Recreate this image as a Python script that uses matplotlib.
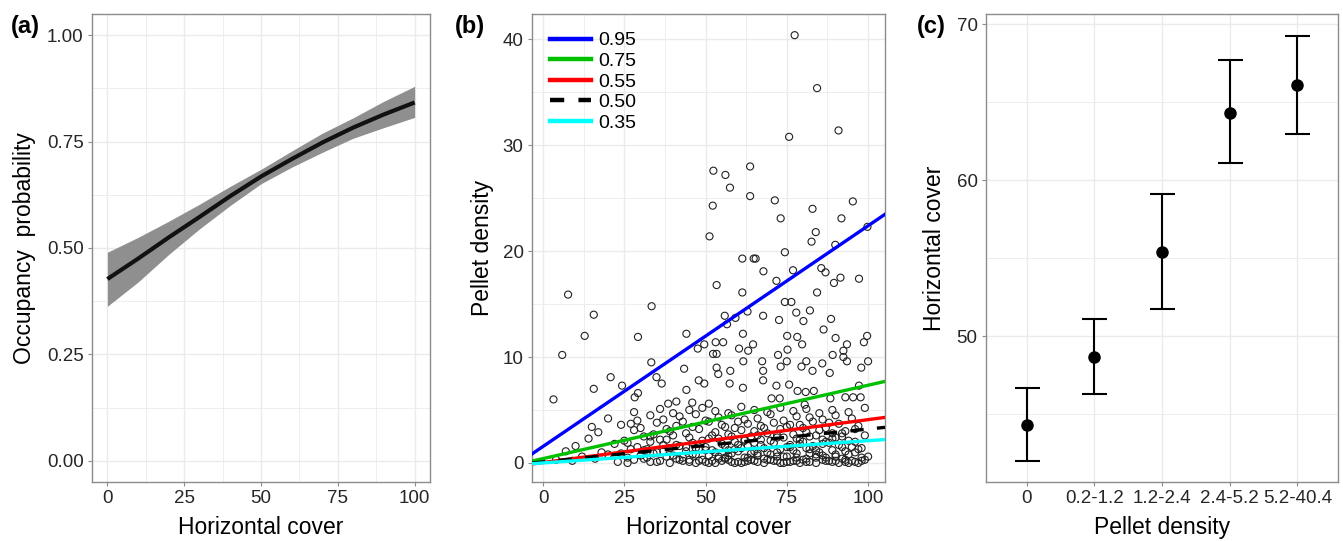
import matplotlib
matplotlib.use("Agg")
import matplotlib.pyplot as plt
from matplotlib.lines import Line2D
import numpy as np

plt.rcParams['font.family'] = ['Liberation Sans', 'DejaVu Sans']

# ---------------- Panel (a) data ----------------
occ_x = [0, 10, 20, 30, 40, 50, 60, 70, 80, 90, 100]
occ_mid = [0.427, 0.475, 0.525, 0.573, 0.622, 0.668, 0.709, 0.748, 0.783, 0.814, 0.842]
occ_hi = [0.490, 0.525, 0.563, 0.603, 0.645, 0.685, 0.728, 0.770, 0.806, 0.845, 0.880]
occ_lo = [0.363, 0.420, 0.485, 0.545, 0.600, 0.651, 0.690, 0.725, 0.758, 0.783, 0.807]

# ---------------- Panel (b) data ----------------
quant_labels = ['0.95', '0.75', '0.55', '0.50', '0.35']
quant_at0 = [1.56, 0.41, 0.04, 0.10, 0.00]
quant_at100 = [22.4, 7.34, 4.09, 3.20, 2.10]

sparse_x = [77.4, 84.3, 75.7, 90.9, 52.4, 56.1, 63.7, 57.5, 63.7, 52.2, 71.3, 95.3, 82.9, 73.1,
            91.8, 83.9, 51.2, 99.8, 82.6, 89.9, 61.3, 64.8, 65.4, 74.4, 85.6, 86.9, 67.8, 76.9,
            71.8, 91.5, 97.2, 89.5, 53.4, 61.3, 84.3, 7.7, 74.4, 76.4, 33.4, 62.9, 77.9, 82.1,
            80.1, 67.7, 55.9, 56.6, 59.2, 15.6, 72.6, 88.6, 86.3, 12.8, 29.2, 44.1, 61.5, 75.1,
            78.2, 90.0, 99.7, 98.7, 53.1, 55.4, 49.6, 64.6, 93.5, 79.7, 47.6, 60.3, 63.1, 75.2,
            92.4, 5.9, 72.3, 89.1, 52.3, 53.4, 92.4, 61.6, 81.0, 93.5, 100.0, 67.4, 33.3, 73.1,
            79.5, 85.9, 75.0, 53.4, 97.9, 43.4, 57.6, 67.7, 53.9, 82.9, 88.2, 20.8, 34.9, 47.9,
            67.7, 24.3, 36.5, 49.6, 57.4, 61.5, 71.8, 97.2, 75.7, 15.6, 44.1, 78.3, 80.8, 83.3,
            29.2, 3.2, 28.2, 38.5, 41.0, 45.9, 51.0, 70.3, 72.8, 93.0, 95.4, 97.7, 88.4, 80.5]
sparse_y = [40.4, 35.4, 30.8, 31.4, 27.6, 27.2, 28.0, 26.0, 25.2, 24.3, 24.8, 24.7, 24.0, 23.1,
            23.1, 21.8, 21.4, 22.3, 20.9, 20.6, 19.3, 19.3, 19.3, 19.9, 18.4, 18.0, 18.1, 18.2,
            17.2, 17.5, 17.4, 17.0, 16.8, 16.1, 16.1, 15.9, 15.2, 15.2, 14.8, 14.3, 14.2, 14.4,
            13.4, 13.9, 13.9, 13.1, 13.7, 14.0, 13.5, 13.6, 12.6, 12.0, 11.9, 12.2, 12.2, 12.0,
            11.9, 11.8, 12.0, 11.4, 11.4, 11.4, 11.2, 11.2, 11.2, 11.2, 10.8, 10.8, 10.6, 10.7,
            10.6, 10.2, 10.2, 10.2, 10.3, 10.3, 10.0, 9.6, 9.6, 9.6, 9.6, 9.6, 9.5, 9.1,
            9.1, 9.4, 9.6, 9.0, 9.0, 8.9, 8.7, 8.7, 8.4, 8.7, 8.5, 8.1, 8.1, 7.8,
            7.8, 7.3, 7.5, 7.5, 7.5, 7.1, 7.3, 7.3, 7.4, 7.0, 6.9, 6.8, 6.7, 6.8,
            6.6, 6.0, 6.2, 5.6, 5.8, 5.7, 5.6, 6.1, 6.1, 6.2, 6.2, 6.2, 6.1, 5.5]

dense_x = [4, 9, 16, 23, 28, 32, 36, 41, 45, 49, 52, 56, 60, 64, 68, 72, 76, 80, 84, 88, 92, 96, 99,
           12, 20, 26, 30, 34, 38, 43, 47, 51, 54, 58, 62, 66, 70, 74, 78, 82, 86, 90, 94, 98,
           7, 18, 27, 31, 35, 39, 44, 48, 53, 57, 61, 65, 69, 73, 77, 81, 85, 89, 93, 97,
           10, 22, 29, 33, 37, 42, 46, 50, 55, 59, 63, 67, 71, 75, 79, 83, 87, 91, 95,
           14, 25, 31, 36, 40, 45, 49, 54, 58, 62, 66, 70, 74, 78, 82, 86, 90, 94, 99,
           17, 28, 34, 39, 44, 48, 53, 57, 61, 65, 69, 73, 77, 81, 85, 89, 93, 96,
           15, 24, 30, 35, 41, 46, 51, 55, 59, 63, 67, 71, 75, 79, 83, 87, 91,
           20, 29, 33, 37, 42, 47, 50, 54, 58, 62, 66, 70, 74, 78, 82, 86, 90, 95,
           28, 36, 40, 45, 49, 53, 57, 61, 65, 69, 73, 77, 81, 85, 89, 94, 99,
           26, 33, 39, 43, 47, 50, 53, 55, 58, 61, 63, 66, 68, 71, 73, 75, 77, 79, 82, 84, 87, 89, 91, 93, 95, 97,
           40, 44, 52, 56, 60, 64, 67, 72, 76, 80, 84, 88, 92,
           24, 31, 37, 42, 46, 50, 54, 57, 60, 63, 66, 69, 72, 75, 78, 81, 84, 87, 90, 93, 96, 100,
           26, 32, 38, 41, 47, 51, 56, 59, 62, 65, 68, 72, 76, 79, 82, 86, 89, 92, 96, 98,
           27, 33, 38, 43, 52, 56, 60, 64, 68, 72, 76, 80, 84, 88, 92, 97,
           35, 45, 48, 51, 57, 59, 62, 65, 70, 74, 78, 81, 86, 90, 94, 98]
dense_y = [0.3, 0.2, 0.4, 0.1, 0.3, 0.5, 0.2, 0.4, 0.1, 0.3, 0.2, 0.5, 0.1, 0.3, 0.4, 0.2, 0.1, 0.3, 0.5, 0.2, 0.4, 0.1, 0.3,
           0.6, 0.8, 0.5, 0.7, 0.9, 0.6, 0.5, 0.8, 0.7, 0.6, 0.9, 0.5, 0.7, 0.8, 0.6, 0.5, 0.9, 0.7, 0.6, 0.8, 0.5,
           1.1, 1.0, 1.3, 1.2, 1.0, 1.4, 1.1, 1.3, 1.0, 1.2, 1.4, 1.1, 1.0, 1.3, 1.2, 1.4, 1.0, 1.2, 1.1, 1.3,
           1.6, 1.8, 1.5, 2.0, 1.7, 1.6, 1.9, 1.5, 1.8, 2.0, 1.6, 1.7, 1.9, 1.5, 1.8, 1.6, 2.0, 1.7, 1.5,
           2.3, 2.1, 2.5, 2.2, 2.6, 2.4, 2.1, 2.3, 2.5, 2.2, 2.6, 2.1, 2.4, 2.3, 2.5, 2.2, 2.4, 2.1, 2.6,
           2.9, 3.1, 2.7, 3.0, 2.8, 3.2, 2.9, 2.7, 3.1, 3.0, 2.8, 3.2, 2.7, 2.9, 3.1, 2.8, 3.0, 3.2,
           3.4, 3.6, 3.3, 3.8, 3.5, 3.4, 3.9, 3.6, 3.3, 3.7, 3.5, 3.8, 3.4, 3.6, 3.9, 3.3, 3.7,
           4.2, 4.0, 4.5, 4.1, 4.4, 4.6, 4.0, 4.3, 4.5, 4.1, 4.2, 4.6, 4.0, 4.4, 4.3, 4.1, 4.5, 4.2,
           4.8, 5.1, 4.7, 5.0, 5.2, 4.9, 4.7, 5.3, 5.0, 4.8, 5.2, 4.9, 5.1, 4.7, 5.0, 4.8, 5.2,
           0.0, 0.1, 0.0, 0.2, 0.0, 0.1, 0.0, 0.2, 0.1, 0.0, 0.2, 0.1, 0.0, 0.2, 0.0, 0.1, 0.2, 0.0, 0.1, 0.0, 0.2, 0.1, 0.0, 0.1, 0.2, 0.0,
           0.7, 1.5, 1.2, 0.4, 1.7, 0.9, 2.2, 0.6, 1.5, 2.0, 0.8, 1.9, 2.8,
           0.9, 0.4, 1.1, 0.3, 0.8, 1.2, 0.4, 0.7, 1.1, 0.5, 0.9, 0.3, 1.0, 0.6, 0.9, 0.4, 1.2, 0.5, 0.8, 0.3, 1.0, 0.6,
           1.9, 1.3, 2.2, 1.7, 1.4, 2.3, 1.6, 1.3, 2.1, 1.9, 1.4, 2.4, 1.7, 2.2, 1.3, 1.8, 2.3, 1.5, 2.0, 1.4,
           3.7, 2.5, 3.2, 3.9, 2.6, 3.4, 3.9, 2.5, 3.3, 2.6, 3.6, 3.3, 2.6, 3.8, 2.5, 3.5,
           0.1, 0.3, 0.2, 0.0, 0.3, 0.0, 0.1, 0.2, 0.3, 0.0, 0.2, 0.1, 0.3, 0.2, 0.0, 0.2]

# ---------------- Panel (c) data ----------------
dens_cats = ['0', '0.2-1.2', '1.2-2.4', '2.4-5.2', '5.2-40.4']
cover_mean = [44.33, 48.67, 55.44, 64.33, 66.13]
cover_hi = [46.71, 51.11, 59.16, 67.71, 69.29]
cover_lo = [42.04, 46.31, 51.78, 61.09, 62.98]

# ---------------- styling ----------------
DPI = 100
W, H = 1343, 541
fig = plt.figure(figsize=(W / DPI, H / DPI), dpi=DPI)
GRID = '#EBEBEB'
FRAME = '#8C8C8C'
TICKC = '#262626'
TICKFS = 13.5
LABFS = 16.5
PANFS = 17


def style(ax):
    for s in ax.spines.values():
        s.set_color(FRAME)
        s.set_linewidth(1.0)
    ax.set_facecolor('white')
    ax.tick_params(axis='both', which='major', length=3, width=0.8, color=FRAME,
                   labelsize=TICKFS, labelcolor=TICKC, pad=3)
    ax.tick_params(axis='both', which='minor', length=0)
    ax.grid(True, which='major', color=GRID, linewidth=1.0)
    ax.grid(True, which='minor', color=GRID, linewidth=0.6)
    ax.set_axisbelow(True)


TOP, BOT = 14, 482
bottom, height = 1 - BOT / H, (BOT - TOP) / H

# (a)
axa = fig.add_axes([92 / W, bottom, (430 - 92) / W, height])
style(axa)
axa.fill_between(occ_x, occ_lo, occ_hi, color='#8F8F8F', linewidth=0)
axa.plot(occ_x, occ_mid, color='#111111', linewidth=3.0, solid_capstyle='butt')
axa.set_xlim(-5, 105)
axa.set_ylim(-0.05, 1.05)
axa.set_xticks([0, 25, 50, 75, 100])
axa.set_xticks([12.5, 37.5, 62.5, 87.5], minor=True)
axa.set_yticks([0, 0.25, 0.5, 0.75, 1.0])
axa.set_yticklabels(['0.00', '0.25', '0.50', '0.75', '1.00'])
axa.set_yticks([0.125, 0.375, 0.625, 0.875], minor=True)
axa.set_xlabel('Horizontal cover', fontsize=LABFS, labelpad=6)
axa.set_ylabel('Occupancy  probability', fontsize=LABFS, labelpad=8)
fig.text(11 / W, 1 - 26 / H, '(a)', fontsize=PANFS, fontweight='bold', va='center', ha='left')

# (b)
axb = fig.add_axes([532 / W, bottom, (885 - 532) / W, height])
style(axb)
axb.scatter(sparse_x + dense_x, sparse_y + dense_y, s=26, facecolors='none',
            edgecolors='#222222', linewidths=0.8, zorder=2)
xl = (-3.4, 105.2)
colors = ['#0000FF', '#00C000', '#FF0000', '#000000', '#00FFFF']
for lab, a0, a100, c in zip(quant_labels, quant_at0, quant_at100, colors):
    slope = (a100 - a0) / 100.0
    xs = np.array(xl)
    ys = a0 + slope * xs
    if lab == '0.50':
        axb.plot(xs, ys, color=c, linewidth=2.4, dashes=(4, 4), zorder=3)
    else:
        axb.plot(xs, ys, color=c, linewidth=2.4, zorder=3)
axb.set_xlim(*xl)
axb.set_ylim(-1.8, 42.4)
axb.set_xticks([0, 25, 50, 75, 100])
axb.set_xticks([12.5, 37.5, 62.5, 87.5], minor=True)
axb.set_yticks([0, 10, 20, 30, 40])
axb.set_yticks([5, 15, 25, 35], minor=True)
axb.set_xlabel('Horizontal cover', fontsize=LABFS, labelpad=6)
axb.set_ylabel('Pellet density', fontsize=LABFS, labelpad=6)
leg_handles = []
for lab, c in zip(quant_labels, colors):
    if lab == '0.50':
        leg_handles.append(Line2D([], [], color=c, linewidth=3.2, dashes=(3.2, 3.2)))
    else:
        leg_handles.append(Line2D([], [], color=c, linewidth=3.2))
axb.legend(leg_handles, quant_labels, loc='upper left', bbox_to_anchor=(0.051, 0.962),
           frameon=False, fontsize=14, handlelength=2.1, handletextpad=0.4,
           labelspacing=0.155, borderaxespad=0, borderpad=0)
fig.text(455 / W, 1 - 26 / H, '(b)', fontsize=PANFS, fontweight='bold', va='center', ha='left')

# (c)
axc = fig.add_axes([986 / W, bottom, (1338 - 986) / W, height])
style(axc)
pos = np.arange(1, len(dens_cats) + 1)
yerr = [np.array(cover_mean) - np.array(cover_lo), np.array(cover_hi) - np.array(cover_mean)]
axc.errorbar(pos, cover_mean, yerr=yerr, fmt='o', color='black', markersize=8,
             elinewidth=1.5, capsize=9, capthick=1.5, zorder=3)
axc.set_xlim(0.4, 5.6)
axc.set_ylim(40.67, 70.67)
axc.set_xticks(pos)
axc.set_xticklabels(dens_cats)
axc.set_yticks([50, 60, 70])
axc.set_yticks([45, 55, 65], minor=True)
axc.set_xlabel('Pellet density', fontsize=LABFS, labelpad=6)
axc.set_ylabel('Horizontal cover', fontsize=LABFS, labelpad=8)
fig.text(917 / W, 1 - 26 / H, '(c)', fontsize=PANFS, fontweight='bold', va='center', ha='left')

fig.savefig('out.png', dpi=DPI, facecolor='white')
